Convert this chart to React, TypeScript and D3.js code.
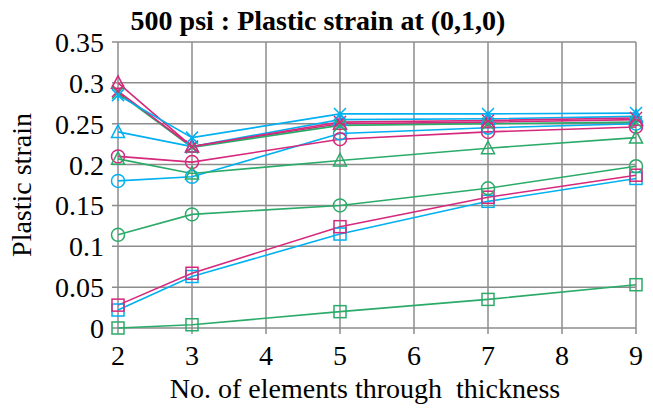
import { useEffect, useRef } from "react";
import * as d3 from "d3";

const elements = [2, 3, 5, 7, 9];
const yTicks = [0, 0.05, 0.1, 0.15, 0.2, 0.25, 0.3, 0.35];
const xTicks = [2, 3, 4, 5, 6, 7, 8, 9];

const cyanSquare = [0.022, 0.063, 0.115, 0.155, 0.183];
const magentaSquare = [0.028, 0.067, 0.124, 0.16, 0.187];
const greenSquare = [0.0, 0.004, 0.02, 0.035, 0.053];
const cyanCircle = [0.18, 0.185, 0.238, 0.245, 0.25];
const magentaCircle = [0.21, 0.203, 0.231, 0.24, 0.246];
const greenCircle = [0.114, 0.139, 0.15, 0.171, 0.198];
const cyanTriangle = [0.24, 0.222, 0.255, 0.256, 0.259];
const magentaTriangle = [0.3, 0.222, 0.25, 0.252, 0.255];
const greenTriangle = [0.207, 0.189, 0.205, 0.22, 0.233];
const cyanCross = [0.285, 0.233, 0.262, 0.262, 0.263];
const magentaCross = [0.29, 0.222, 0.252, 0.254, 0.257];
const greenCross = [0.288, 0.221, 0.248, 0.25, 0.252];

const CYAN = "#00b0f0";
const MAGENTA = "#d6287c";
const GREEN = "#2bab69";

type Series = { values: number[]; color: string; marker: string };

const series: Series[] = [
  { values: greenSquare, color: GREEN, marker: "square" },
  { values: cyanSquare, color: CYAN, marker: "square" },
  { values: magentaSquare, color: MAGENTA, marker: "square" },
  { values: greenCircle, color: GREEN, marker: "circle" },
  { values: cyanCircle, color: CYAN, marker: "circle" },
  { values: magentaCircle, color: MAGENTA, marker: "circle" },
  { values: greenTriangle, color: GREEN, marker: "triangle" },
  { values: cyanTriangle, color: CYAN, marker: "triangle" },
  { values: magentaTriangle, color: MAGENTA, marker: "triangle" },
  { values: greenCross, color: GREEN, marker: "cross" },
  { values: magentaCross, color: MAGENTA, marker: "cross" },
  { values: cyanCross, color: CYAN, marker: "star" },
];

const W = 653;
const H = 412;
const margin = { left: 118, right: 17, top: 42, bottom: 84 };
const FONT = "'Liberation Serif', 'Times New Roman', serif";
const FS = 28;

export default function App() {
  const svgRef = useRef<SVGSVGElement | null>(null);

  useEffect(() => {
    if (!svgRef.current) return;
    const svg = d3.select(svgRef.current);
    svg.selectAll("*").remove();

    const x = d3.scaleLinear().domain([2, 9]).range([margin.left, W - margin.right]);
    const y = d3.scaleLinear().domain([0, 0.35]).range([H - margin.bottom, margin.top]);

    const grid = svg.append("g").attr("stroke", "#8c8c8c").attr("stroke-width", 1.5);
    grid
      .selectAll("line.h")
      .data(yTicks)
      .enter()
      .append("line")
      .attr("x1", margin.left - 6)
      .attr("x2", W - margin.right)
      .attr("y1", (d) => y(d))
      .attr("y2", (d) => y(d));
    grid
      .selectAll("line.v")
      .data(xTicks)
      .enter()
      .append("line")
      .attr("x1", (d) => x(d))
      .attr("x2", (d) => x(d))
      .attr("y1", margin.top)
      .attr("y2", H - margin.bottom + 6);

    // tick labels
    svg
      .append("g")
      .selectAll("text")
      .data(yTicks)
      .enter()
      .append("text")
      .attr("x", margin.left - 14)
      .attr("y", (d) => y(d) + 10)
      .attr("text-anchor", "end")
      .attr("font-family", FONT)
      .attr("font-size", FS)
      .attr("fill", "#000")
      .text((d) => String(+d.toFixed(2)));

    svg
      .append("g")
      .selectAll("text")
      .data(xTicks)
      .enter()
      .append("text")
      .attr("x", (d) => x(d))
      .attr("y", H - margin.bottom + 37)
      .attr("text-anchor", "middle")
      .attr("font-family", FONT)
      .attr("font-size", FS)
      .attr("fill", "#000")
      .text((d) => String(d));

    const line = d3
      .line<number>()
      .x((_d, i) => x(elements[i]))
      .y((d) => y(d));

    const g = svg.append("g");
    series.forEach((s) => {
      g.append("path")
        .attr("d", line(s.values) ?? "")
        .attr("fill", "none")
        .attr("stroke", s.color)
        .attr("stroke-width", 1.6);
    });

    series.forEach((s) => {
      const mg = g
        .append("g")
        .attr("fill", "none")
        .attr("stroke", s.color)
        .attr("stroke-width", 1.5);
      s.values.forEach((v, i) => {
        const cx = x(elements[i]);
        const cy = y(v);
        if (s.marker === "square") {
          mg.append("rect").attr("x", cx - 6).attr("y", cy - 6).attr("width", 12).attr("height", 12);
        } else if (s.marker === "circle") {
          mg.append("circle").attr("cx", cx).attr("cy", cy).attr("r", 6.5);
        } else if (s.marker === "triangle") {
          mg.append("path").attr("d", `M${cx},${cy - 7}L${cx + 6.5},${cy + 5.5}L${cx - 6.5},${cy + 5.5}Z`);
        } else if (s.marker === "cross") {
          mg.append("path").attr("d", `M${cx - 6},${cy - 6}L${cx + 6},${cy + 6}M${cx + 6},${cy - 6}L${cx - 6},${cy + 6}`);
        } else {
          mg.append("path").attr(
            "d",
            `M${cx - 6},${cy - 6}L${cx + 6},${cy + 6}M${cx + 6},${cy - 6}L${cx - 6},${cy + 6}M${cx},${cy}L${cx},${cy + 6}`,
          );
        }
      });
    });

    svg
      .append("text")
      .attr("x", 318)
      .attr("y", 30)
      .attr("text-anchor", "middle")
      .attr("font-family", FONT)
      .attr("font-weight", "bold")
      .attr("font-size", FS)
      .text("500 psi : Plastic strain at (0,1,0)");

    svg
      .append("text")
      .attr("x", 365)
      .attr("y", 398)
      .attr("text-anchor", "middle")
      .attr("font-family", FONT)
      .attr("font-size", FS)
      .attr("xml:space", "preserve")
      .text("No. of elements through  thickness");

    svg
      .append("text")
      .attr("transform", `translate(31,${(margin.top + H - margin.bottom) / 2}) rotate(-90)`)
      .attr("text-anchor", "middle")
      .attr("font-family", FONT)
      .attr("font-size", FS)
      .text("Plastic strain");
  }, []);

  return (
    <svg
      ref={svgRef}
      width={W}
      height={H}
      style={{ position: "fixed", left: 0, top: 0, background: "#fff" }}
    />
  );
}
